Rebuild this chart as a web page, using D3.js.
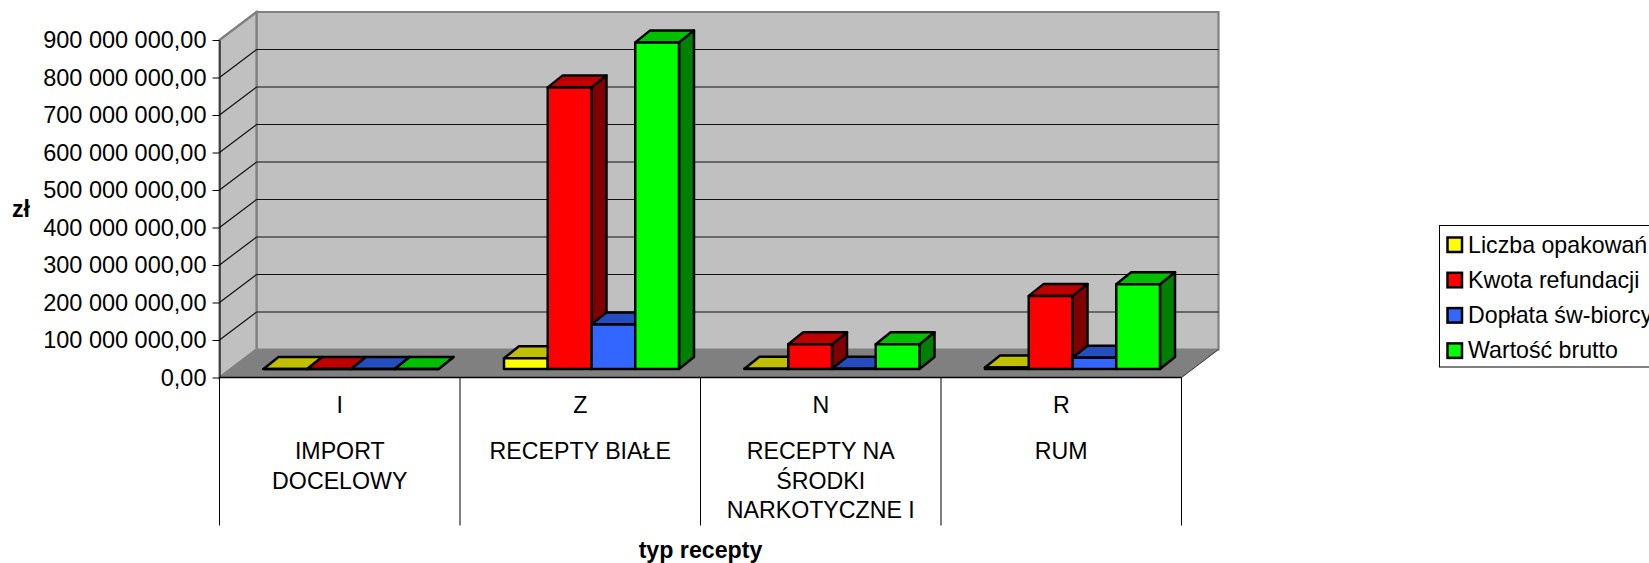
<!DOCTYPE html>
<html><head><meta charset="utf-8">
<script src="https://cdnjs.cloudflare.com/ajax/libs/d3/7.8.5/d3.min.js"></script>
<style>html,body{margin:0;padding:0;background:#fff;overflow:hidden}svg{display:block}text{font-family:"Liberation Sans",Arial,sans-serif;fill:#000}</style>
</head><body><svg id="c" width="1649" height="563"></svg>
<script>
const codes = ["I","Z","N","R"];
const names = [["IMPORT","DOCELOWY"],["RECEPTY BIAŁE"],["RECEPTY NA","ŚRODKI","NARKOTYCZNE I"],["RUM"]];
const seriesNames = ["Liczba opakowań","Kwota refundacji","Dopłata św-biorcy","Wartość brutto"];
const liczba = [100000, 28500000, 800000, 4000000];
const kwota = [100000, 751000000, 66000000, 195000000];
const doplata = [100000, 119000000, 800000, 30000000];
const brutto = [100000, 871000000, 66000000, 226000000];
const seriesValues = [liczba, kwota, doplata, brutto];
const fronts = ["#FFFF00","#FF0000","#3366FF","#00FF00"];
const tops = ["#C0C000","#C00000","#264DBF","#00C000"];
const sides = ["#808000","#800000","#1A3380","#008000"];
const ticks = [0,100,200,300,400,500,600,700,800,900].map(d=>d*1e6);

const svg = d3.select("#c");
const fmt = v => d3.format(",.2f")(v).replace(/,/g," ").replace(".",",");
const L=219.5, R=1181.5, B=377.5, T=40, DX=37, DY=-28;
const y = d3.scaleLinear().domain([0,900e6]).range([B,T]);
const x0 = d3.scaleBand().domain(codes).range([L,R]);
const x1 = d3.scaleBand().domain(seriesNames).range([0,175]);
const fs = 23.2;
const poly = pts => pts.map(p=>p.join(",")).join(" ");

// walls and floor
svg.append("polygon").attr("points",poly([[L+DX,y(900e6)+DY],[R+DX,y(900e6)+DY],[R+DX,B+DY],[L+DX,B+DY]])).attr("fill","#C0C0C0").attr("stroke","#808080").attr("stroke-width",2.2);
svg.append("polygon").attr("points",poly([[L,T],[L+DX,T+DY],[L+DX,B+DY],[L,B]])).attr("fill","#C0C0C0").attr("stroke","#808080").attr("stroke-width",2.2);
svg.append("polygon").attr("points",poly([[L,B],[L+DX,B+DY],[R+DX,B+DY],[R,B]])).attr("fill","#808080");
svg.append("line").attr("x1",R).attr("y1",B).attr("x2",R+DX).attr("y2",B+DY).attr("stroke","#333").attr("stroke-width",1);

// gridlines
ticks.slice(1,-1).forEach(t=>{
  svg.append("polyline").attr("points",poly([[L,y(t)],[L+DX,y(t)+DY],[R+DX,y(t)+DY]])).attr("fill","none").attr("stroke","#111").attr("stroke-width",1.2);
});
svg.append("line").attr("x1",L).attr("y1",T).attr("x2",L+DX).attr("y2",T+DY).attr("stroke","#808080").attr("stroke-width",2);

// y axis
const ay = svg.append("g").attr("transform",`translate(${L},0)`).call(d3.axisLeft(y).tickValues(ticks).tickFormat(fmt).tickSize(7).tickSizeOuter(0).tickPadding(6));
ay.selectAll("text").style("font-size","23.5px").style("font-family","'Liberation Sans',Arial,sans-serif").attr("fill","#000");
ay.selectAll("line,path").attr("stroke","#000").attr("stroke-width",1);

// x axis line and separators
svg.append("line").attr("x1",L).attr("y1",B).attr("x2",R).attr("y2",B).attr("stroke","#000").attr("stroke-width",1.3);
[...codes.map(c=>x0(c)),R].forEach(px=>{
  svg.append("line").attr("x1",px).attr("y1",B).attr("x2",px).attr("y2",525.5).attr("stroke","#000").attr("stroke-width",1);
});
codes.forEach((c,i)=>{
  const cx=x0(c)+x0.bandwidth()/2;
  svg.append("text").attr("x",cx).attr("y",413).attr("text-anchor","middle").style("font-size",fs+"px").text(c);
  names[i].forEach((n,j)=>svg.append("text").attr("x",cx).attr("y",459+j*29.5).attr("text-anchor","middle").style("font-size",fs+"px").text(n));
});

// bars
const bx=15, by=-12, inX=44, floorY=-8.5;
codes.forEach((c,ci)=>{
  seriesNames.forEach((s,si)=>{
    const v=seriesValues[si][ci];
    const xl=x0(c)+inX+x1(s), xr=xl+x1.bandwidth();
    const yb=y(0)+floorY, yt=y(v)+floorY;
    const g=svg.append("g").attr("stroke","#000").attr("stroke-width",2.5).attr("stroke-linejoin","round");
    g.append("polygon").attr("points",poly([[xr,yb],[xr+bx,yb+by],[xr+bx,yt+by],[xr,yt]])).attr("fill",sides[si]);
    g.append("polygon").attr("points",poly([[xl,yt],[xl+bx,yt+by],[xr+bx,yt+by],[xr,yt]])).attr("fill",tops[si]);
    g.append("polygon").attr("points",poly([[xl,yb],[xr,yb],[xr,yt],[xl,yt]])).attr("fill",fronts[si]);
  });
});

// axis titles
svg.append("text").attr("x",21).attr("y",216.5).attr("text-anchor","middle").style("font-size",fs+"px").style("font-weight","bold").text("zł");
svg.append("text").attr("x",700.5).attr("y",558).attr("text-anchor","middle").style("font-size",fs+"px").style("font-weight","bold").text("typ recepty");

// legend
const lg=svg.append("g");
lg.append("rect").attr("x",1439.5).attr("y",225.5).attr("width",260).attr("height",141.5).attr("fill","#fff").attr("stroke","#000").attr("stroke-width",1);
seriesNames.forEach((s,i)=>{
  const cy=244.5+i*35.3;
  lg.append("rect").attr("x",1447.5).attr("y",cy-7).attr("width",14.5).attr("height",14.5).attr("fill",fronts[i]).attr("stroke","#000").attr("stroke-width",2.5);
  lg.append("text").attr("x",1468).attr("y",cy+8).style("font-size",fs+"px").text(s);
});
</script></body></html>
